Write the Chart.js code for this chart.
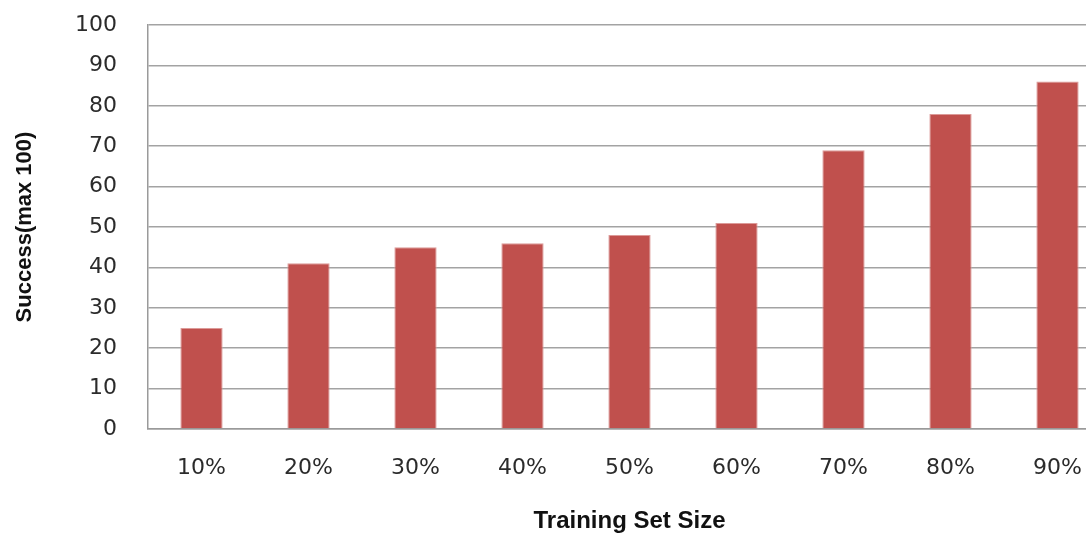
<!DOCTYPE html>
<html>
<head>
<meta charset="utf-8">
<script src="https://cdn.jsdelivr.net/npm/chart.js@4/dist/chart.umd.min.js"></script>
<style>
  html, body { margin: 0; padding: 0; background: #fff; overflow: hidden; }
  #wrap { width: 1112px; height: 536px; }
</style>
</head>
<body>
<div id="wrap"><canvas id="c" width="1112" height="536"></canvas></div>
<script>
const categories = ['10%', '20%', '30%', '40%', '50%', '60%', '70%', '80%', '90%'];
const successValues = [25, 41, 45, 46, 48, 51, 69, 78, 86];
const xTitle = 'Training Set Size';
const yTitle = 'Success(max 100)';

const tickFont = { family: '"DejaVu Sans", Verdana, sans-serif', size: 22 };
const titleFamily = '"Liberation Sans", Arial, sans-serif';

new Chart(document.getElementById('c'), {
  type: 'bar',
  data: {
    labels: categories,
    datasets: [{
      data: successValues,
      backgroundColor: '#c0504d',
      borderColor: '#dc9a98',
      borderWidth: 1,
      barPercentage: 0.395,
      categoryPercentage: 1
    }]
  },
  options: {
    responsive: false,
    animation: false,
    layout: { padding: { top: 25, right: 1, bottom: 0, left: 0 } },
    plugins: { legend: { display: false }, tooltip: { enabled: false } },
    scales: {
      x: {
        grid: { display: false, drawTicks: false },
        border: { display: true, color: '#9a9a9a', width: 1.5 },
        ticks: { color: '#2b2b2b', font: tickFont, padding: 26, maxRotation: 0, autoSkip: false },
        title: { display: true, text: xTitle, color: '#111', font: { family: titleFamily, size: 24, weight: 'bold' }, padding: { top: 0, bottom: 0 } },
        afterFit: s => { s.height = 107; s.paddingLeft = 0; s.paddingRight = 0; }
      },
      y: {
        min: 0, max: 100,
        grid: { color: '#a3a3a3', lineWidth: 1.5, drawTicks: false },
        border: { display: true, color: '#9a9a9a', width: 1.5 },
        ticks: { stepSize: 10, color: '#2b2b2b', font: tickFont, padding: 31 },
        title: { display: true, text: yTitle, color: '#111', font: { family: titleFamily, size: 22, weight: 'bold' }, padding: { top: 12, bottom: 0 } },
        afterFit: s => { s.width = 148; s.paddingTop = 0; s.paddingBottom = 0; }
      }
    }
  }
});
</script>
</body>
</html>
